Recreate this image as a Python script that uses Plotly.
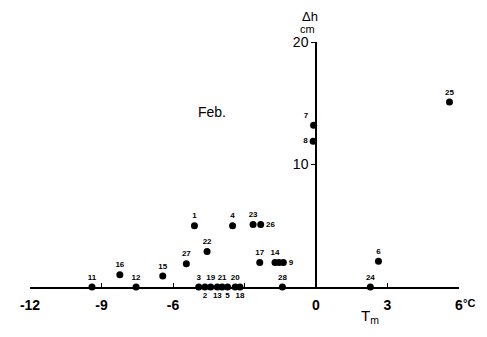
import plotly.graph_objects as go

# Data: day of February, mean temperature Tm (°C), Δh (cm)
days = ["1", "2", "3", "4", "5", "6", "7", "8", "9", "10", "11", "12", "13", "14",
        "15", "16", "17", "18", "19", "20", "21", "22", "23", "24", "25", "26", "27", "28"]
tm = [-5.10, -4.66, -4.92, -3.50, -3.71, 2.62, -0.10, -0.12, -1.37, -1.55, -9.40, -7.55, -4.14, -1.72,
      -6.43, -8.23, -2.36, -3.19, -4.42, -3.39, -3.94, -4.57, -2.64, 2.28, 5.60, -2.32, -5.44, -1.41]
dh = [5.0, 0.0, 0.0, 5.0, 0.0, 2.1, 13.2, 11.9, 2.0, 2.0, 0.0, 0.0, 0.0, 2.0,
      0.9, 1.0, 2.0, 0.0, 0.0, 0.0, 0.0, 2.9, 5.1, 0.0, 15.1, 5.1, 1.9, 0.0]
shown = [True] * 28
shown[9] = False  # day 10 label not visible

x_tickvals = [-12, -9, -6, -3, 0, 3, 6]
x_ticktext = ["-12", "-9", "-6", "", "0", "3", "6"]
y_tickvals = [10, 20]
y_ticktext = ["10", "20"]

# label placement (style)
below = {"2", "13", "5", "18"}
right = {"9", "26"}
left = {"8"}
topleft = {"7"}
positions = []
for d in days:
    if d in below:
        positions.append("bottom center")
    elif d in right:
        positions.append("middle right")
    elif d in left:
        positions.append("middle left")
    elif d in topleft:
        positions.append("top left")
    else:
        positions.append("top center")

labels = [d if s else "" for d, s in zip(days, shown)]

fig = go.Figure()
fig.add_trace(go.Scatter(
    x=tm, y=dh, mode="markers+text", text=labels, textposition=positions,
    marker=dict(color="black", size=7),
    textfont=dict(family="Liberation Sans", size=8, color="black", weight="bold"),
    cliponaxis=False, showlegend=False, hoverinfo="x+y+text",
))


def note(x, y, text, size, weight="normal", xanchor="center"):
    return dict(x=x, y=y, xref="paper", yref="paper", text=text, showarrow=False,
                xanchor=xanchor, yanchor="middle",
                font=dict(size=size, color="black", weight=weight))


fig.update_layout(
    width=479, height=329,
    margin=dict(l=12, r=28, t=34, b=50),
    paper_bgcolor="white", plot_bgcolor="white",
    xaxis=dict(range=[-12, 6], showline=True, linecolor="black", linewidth=1.5,
               ticks="inside", ticklen=4, tickcolor="black", tickwidth=1,
               tickvals=x_tickvals, ticktext=x_ticktext, showgrid=False, zeroline=False,
               tickfont=dict(family="Liberation Sans", size=14, color="black", weight="bold"),
               ticklabelstandoff=4),
    yaxis=dict(range=[0, 20], anchor="free", position=12 / 18, showline=True,
               linecolor="black", linewidth=1.5, ticks="outside", ticklen=4,
               tickcolor="black", tickvals=y_tickvals, ticktext=y_ticktext,
               showgrid=False, zeroline=False,
               tickfont=dict(family="Liberation Sans", size=14, color="black")),
    font=dict(family="Liberation Sans", color="black"),
    annotations=[
        note(0.652, 1.103, "Δh", 13),
        note(0.648, 1.052, "cm", 11),
        note(0.425, 0.714, "Feb.", 14),
        note(0.793, -0.122, "T<sub>m</sub>", 15),
        note(1.043, -0.065, "°C", 11, "bold", "right"),
    ],
)

fig.write_html("out.html")
